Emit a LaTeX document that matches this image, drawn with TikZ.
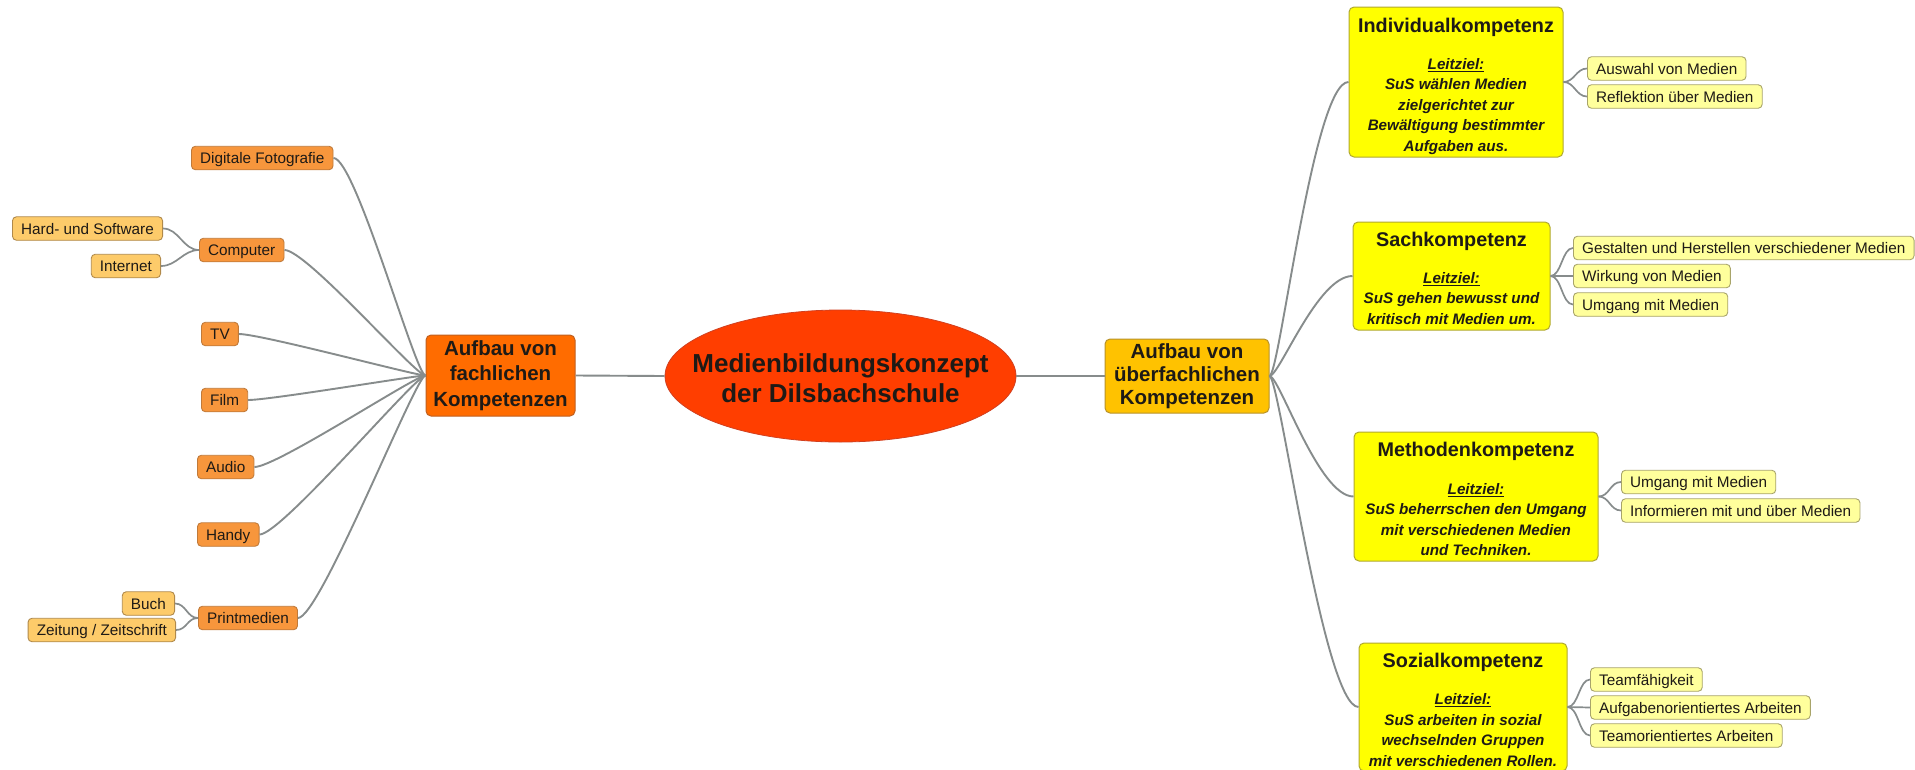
\documentclass[tikz,border=0pt]{standalone}
\usepackage{fontspec}
\setmainfont{Liberation Sans}
\usetikzlibrary{shapes.geometric}
\definecolor{orfill}{HTML}{F7963C}
\definecolor{orline}{HTML}{C07A3A}
\definecolor{ltfill}{HTML}{FDCB6A}
\definecolor{ltline}{HTML}{B0894A}
\definecolor{ylfill}{HTML}{FFFF9C}
\definecolor{ylline}{HTML}{A8A46A}
\definecolor{kfill}{HTML}{FFFF00}
\definecolor{kline}{HTML}{B0A830}
\definecolor{fachfill}{HTML}{FF6C00}
\definecolor{fachline}{HTML}{C06020}
\definecolor{uebfill}{HTML}{FFC200}
\definecolor{uebline}{HTML}{B8922A}
\definecolor{ellfill}{HTML}{FF3E00}
\definecolor{ellline}{HTML}{D04020}
\definecolor{connc}{HTML}{878C8C}
\definecolor{txt}{HTML}{1E1A16}
\begin{document}
\begin{tikzpicture}[x=1pt,y=-1pt,
  leafbase/.style={draw, rounded corners=4pt, inner xsep=8.7pt, inner ysep=0pt,
    minimum height=23.5pt, font=\fontsize{15.3}{18}\selectfont,
    text height=11pt, text depth=0pt, line width=0.9pt, text=txt},
  orleaf/.style={leafbase, fill=orfill, draw=orline},
  ltleaf/.style={leafbase, fill=ltfill, draw=ltline},
  ylleaf/.style={leafbase, fill=ylfill, draw=ylline},
  kompbox/.style={draw=kline, fill=kfill, rounded corners=5pt, line width=1pt, inner sep=0pt},
  ktitle/.style={font=\fontsize{19.8}{24}\selectfont\bfseries, inner sep=0pt, text=txt},
  kbody/.style={align=center, font=\fontsize{15.2}{20.5}\selectfont\bfseries\itshape, inner sep=0pt, text=txt},
  conn/.style={draw=connc, line width=1.9pt},
  subconn/.style={draw=connc, line width=1.7pt}
]
\useasboundingbox (0,0) rectangle (1915,769);
\fill[white] (0,0) rectangle (1915,769);

% ---- centre ----
\node[ellipse, fill=ellfill, draw=ellline, line width=0.8pt, minimum width=351pt, minimum height=132pt, inner sep=0pt] (root) at (840.5,376) {};
\node[align=center, font=\fontsize{26}{29.5}\selectfont\bfseries, inner sep=0pt, text=txt] (rootT) at (840.5,378) {Medienbildungskonzept\\der Dilsbachschule};

\node[draw=fachline, fill=fachfill, rounded corners=5pt, line width=1pt, minimum width=149pt, minimum height=81pt, inner sep=0pt, align=center, font=\fontsize{20.5}{25.3}\selectfont\bfseries, text=txt] (fach) at (500.5,375.5) {Aufbau von\\fachlichen\\Kompetenzen};

\node[draw=uebline, fill=uebfill, rounded corners=5pt, line width=1pt, minimum width=164pt, minimum height=74pt, inner sep=0pt, align=center, font=\fontsize{20.5}{23.3}\selectfont\bfseries, text=txt] (ueber) at (1187,376) {Aufbau von\\überfachlichen\\Kompetenzen};

\draw[conn] (fach.east) -- (root.west);
\draw[conn] (root.east) -- (ueber.west);

% ---- left side ----
\node[orleaf, anchor=west] (dig) at (191,158) {Digitale Fotografie};
\node[orleaf, anchor=west] (comp) at (199,250) {Computer};
\node[orleaf, anchor=west] (tv) at (201,334) {TV};
\node[orleaf, anchor=west] (film) at (201,400) {Film};
\node[orleaf, anchor=west] (audio) at (197,467) {Audio};
\node[orleaf, anchor=west] (handy) at (197,534.5) {Handy};
\node[orleaf, anchor=west] (print) at (198,618) {Printmedien};

\node[ltleaf, anchor=east] (hw) at (163,228.5) {Hard- und Software};
\node[ltleaf, anchor=east] (inet) at (161,266) {Internet};
\node[ltleaf, anchor=east] (buch) at (175,603.5) {Buch};
\node[ltleaf, anchor=east] (zeit) at (176,630) {Zeitung / Zeitschrift};

\foreach \n in {dig,comp,tv,film,audio,handy,print}
  \draw[conn] (fach.west) .. controls +(-10,0) and +(22,0) .. (\n.east);

\draw[subconn] (comp.west) .. controls +(-16,0) and +(16,0) .. (hw.east);
\draw[subconn] (comp.west) .. controls +(-16,0) and +(16,0) .. (inet.east);
\draw[subconn] (print.west) .. controls +(-11,0) and +(11,0) .. (buch.east);
\draw[subconn] (print.west) .. controls +(-11,0) and +(11,0) .. (zeit.east);

% ---- right side ----
\node[kompbox, minimum width=214pt, minimum height=150pt] (ind) at (1456,82) {};
\node[ktitle, anchor=base] (indT) at (1456,32) {Individualkompetenz};
\node[kbody] (indB) at (1456,106.5) {\underline{Leitziel:}\\SuS wählen Medien\\zielgerichtet zur\\Bewältigung bestimmter\\Aufgaben aus.};

\node[kompbox, minimum width=197pt, minimum height=108pt] (sach) at (1451.5,276) {};
\node[ktitle, anchor=base] (sachT) at (1451.5,246) {Sachkompetenz};
\node[kbody] (sachB) at (1451.5,298.5) {\underline{Leitziel:}\\SuS gehen bewusst und\\kritisch mit Medien um.};

\node[kompbox, minimum width=244pt, minimum height=129pt] (meth) at (1476,496.5) {};
\node[ktitle, anchor=base] (methT) at (1476,456) {Methodenkompetenz};
\node[kbody] (methB) at (1476,519.5) {\underline{Leitziel:}\\SuS beherrschen den Umgang\\mit verschiedenen Medien\\und Techniken.};

\node[kompbox, minimum width=208pt, minimum height=128pt] (soz) at (1463,707) {};
\node[ktitle, anchor=base] (sozT) at (1463,667) {Sozialkompetenz};
\node[kbody] (sozB) at (1463,730) {\underline{Leitziel:}\\SuS arbeiten in sozial\\wechselnden Gruppen\\mit verschiedenen Rollen.};

\foreach \n in {ind,sach,meth,soz}
  \draw[conn] (ueber.east) .. controls +(10,0) and +(-35,0) .. (\n.west);

\node[ylleaf, anchor=west] (ausw) at (1587,68.5) {Auswahl von Medien};
\node[ylleaf, anchor=west] (refl) at (1587,96.5) {Reflektion über Medien};
\node[ylleaf, anchor=west] (gest) at (1573,248) {Gestalten und Herstellen verschiedener Medien};
\node[ylleaf, anchor=west] (wirk) at (1573,276) {Wirkung von Medien};
\node[ylleaf, anchor=west] (umga) at (1573,304.5) {Umgang mit Medien};
\node[ylleaf, anchor=west] (umgb) at (1621,482) {Umgang mit Medien};
\node[ylleaf, anchor=west] (info) at (1621,510.5) {Informieren mit und über Medien};
\node[ylleaf, anchor=west] (team) at (1590,679.5) {Teamfähigkeit};
\node[ylleaf, anchor=west] (aufg) at (1590,707.5) {Aufgabenorientiertes Arbeiten};
\node[ylleaf, anchor=west] (teamo) at (1590,735.5) {Teamorientiertes Arbeiten};

\foreach \p/\c in {ind/ausw,ind/refl,sach/gest,sach/wirk,sach/umga,meth/umgb,meth/info,soz/team,soz/aufg,soz/teamo}
  \draw[subconn] (\p.east) .. controls +(11,0) and +(-11,0) .. (\c.west);
\end{tikzpicture}
\end{document}
